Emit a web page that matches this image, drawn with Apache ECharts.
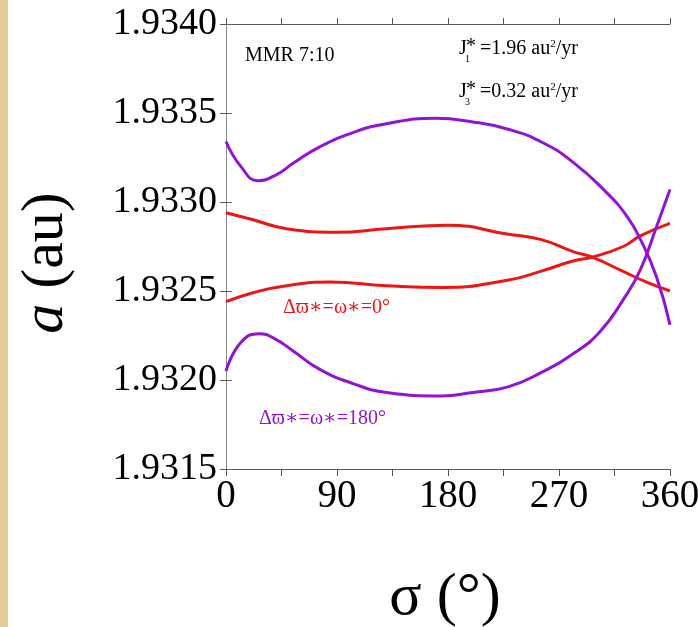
<!DOCTYPE html>
<html>
<head>
<meta charset="utf-8">
<script src="https://cdn.jsdelivr.net/npm/echarts@6/dist/echarts.min.js"></script>
<style>
html,body{margin:0;padding:0;background:#fff;}
#c{width:698px;height:627px;}
</style>
</head>
<body>
<div id="c"></div>
<script>
// ---- data ----
const xTicks = [0, 90, 180, 270, 360];
const yTicks = [1.9315, 1.9320, 1.9325, 1.9330, 1.9335, 1.9340];

const sigmaRedUpper = [0, 22, 49, 90, 130, 180, 228, 255, 282, 297, 322, 341, 360];
const aRedUpper     = [1.93294, 1.93290, 1.93285, 1.93283, 1.93285, 1.93287, 1.93282, 1.93279, 1.93272, 1.93269, 1.93261, 1.93255, 1.93250];

const sigmaRedLower = [0, 22, 49, 85, 130, 175, 228, 255, 282, 297, 322, 336, 360];
const aRedLower     = [1.93244, 1.93249, 1.93253, 1.93255, 1.93253, 1.93252, 1.93256, 1.93261, 1.93267, 1.93269, 1.93275, 1.93281, 1.93288];

const sigmaPurpleUpper = [0, 12, 26, 40, 55, 76, 103, 130, 170, 200, 228, 255, 282, 309, 325, 336, 349, 360];
const aPurpleUpper     = [1.93334, 1.93320, 1.93312, 1.93315, 1.93322, 1.93331, 1.93339, 1.93344, 1.93347, 1.93345, 1.93341, 1.93334, 1.93322, 1.93305, 1.93292, 1.93279, 1.93258, 1.93231];

const sigmaPurpleLower = [0, 12, 27, 40, 55, 76, 103, 130, 175, 200, 228, 255, 282, 303, 322, 336, 349, 360];
const aPurpleLower     = [1.93205, 1.93221, 1.93226, 1.93223, 1.93216, 1.93206, 1.93198, 1.93193, 1.93191, 1.93193, 1.93196, 1.93204, 1.93215, 1.93227, 1.93245, 1.93262, 1.93286, 1.93307];

const labelRed = 'Δϖ∗=ω∗=0°';
const labelPurple = 'Δϖ∗=ω∗=180°';

// ---- chart ----
const RED = '#ee1515';
const PURPLE = '#9014d2';
const SERIF = '"Liberation Serif","DejaVu Serif",serif';

function pairs(xs, ys){ return xs.map((x,i)=>[x, ys[i]]); }

const chart = echarts.init(document.getElementById('c'), null, {renderer:'canvas'});

const axisLine = {show:true, lineStyle:{color:'#555', width:1}};

function lineSeries(xs, ys, color){
  return {
    type:'line', xAxisIndex:0, yAxisIndex:0,
    data: pairs(xs, ys), smooth:0.5, showSymbol:false, symbol:'none',
    lineStyle:{color:color, width:3}, silent:true, z:3
  };
}

function txt(x, y, s, size, color, extra){
  return Object.assign({
    type:'text', x:x, y:y,
    style:{text:s, font:size+'px '+SERIF, fill:color||'#000', textVerticalAlign:'middle', textAlign:'left'}
  }, extra||{});
}

function jLine(y, sub, rest){
  return [
    txt(459, y, 'J', 20, '#000'),
    txt(466, y-2, '*', 20, '#000'),
    txt(465, y+10, sub, 10, '#000'),
    {type:'text', x:480, y:y,
     style:{text:rest, font:'20px '+SERIF, fill:'#000', textVerticalAlign:'middle', textAlign:'left',
       rich:{s:{fontSize:11, fontFamily:SERIF, fill:'#000', verticalAlign:'top', lineHeight:11}}}}
  ];
}

const option = {
  backgroundColor:'#fff',
  animation:false,
  grid:{left:226, right:28, top:24, bottom:158, show:false, containLabel:false, outerBoundsMode:'none'},
  xAxis:[
    {type:'value', position:'bottom', min:0, max:360, interval:45,
     axisLine:axisLine,
     axisTick:{show:true, inside:false, length:7, lineStyle:{color:'#555'}},
     axisLabel:{show:true, margin:8, color:'#000', fontFamily:SERIF, fontSize:39,
       formatter:function(v){ return xTicks.indexOf(v) >= 0 ? String(v) : ''; }},
     splitLine:{show:false}},
    {type:'value', position:'top', min:0, max:360, interval:45,
     axisLine:axisLine,
     axisTick:{show:true, inside:false, length:6, lineStyle:{color:'#555'}},
     axisLabel:{show:false}, splitLine:{show:false}}
  ],
  yAxis:[
    {type:'value', position:'left', min:yTicks[0], max:yTicks[yTicks.length-1], interval:0.0005,
     axisLine:axisLine,
     axisTick:{show:true, inside:false, length:6, lineStyle:{color:'#555'}},
     axisLabel:{show:true, margin:9, color:'#000', fontFamily:SERIF, fontSize:38,
       formatter:function(v){ return v.toFixed(4); }},
     splitLine:{show:false}},
    {type:'value', position:'right', min:yTicks[0], max:yTicks[yTicks.length-1], interval:0.0005,
     axisLine:{show:true, lineStyle:{color:'#888', width:1}},
     axisTick:{show:true, inside:false, length:6, lineStyle:{color:'#666'}},
     axisLabel:{show:false}, splitLine:{show:false}}
  ],
  series:[
    lineSeries(sigmaRedUpper, aRedUpper, RED),
    lineSeries(sigmaRedLower, aRedLower, RED),
    lineSeries(sigmaPurpleUpper, aPurpleUpper, PURPLE),
    lineSeries(sigmaPurpleLower, aPurpleLower, PURPLE)
  ],
  graphic:[
    {type:'rect', left:0, top:0, shape:{x:0,y:0,width:8,height:627}, style:{fill:'#e4cb92'}, z:0},
    // axis names
    {type:'text', x:46, y:263, rotation:Math.PI/2,
     style:{text:'{i|a} (au)', textAlign:'center', textVerticalAlign:'middle',
       font:'60px '+SERIF, fill:'#000',
       rich:{i:{fontStyle:'italic', fontFamily:SERIF, fontSize:60, fill:'#000'}}}},
    {type:'text', x:445, y:598,
     style:{text:'σ (°)', textAlign:'center', textVerticalAlign:'middle', font:'60px '+SERIF, fill:'#000'}},
    // annotations
    txt(245, 56, 'MMR 7:10', 20, '#000')
  ].concat(jLine(49, '1', '=1.96 au{s|2}/yr'))
   .concat(jLine(92, '3', '=0.32 au{s|2}/yr'))
   .concat([
    txt(283, 308, labelRed, 20, RED),
    txt(259, 419, labelPurple, 20, PURPLE)
  ])
};
chart.setOption(option);
</script>
</body>
</html>
